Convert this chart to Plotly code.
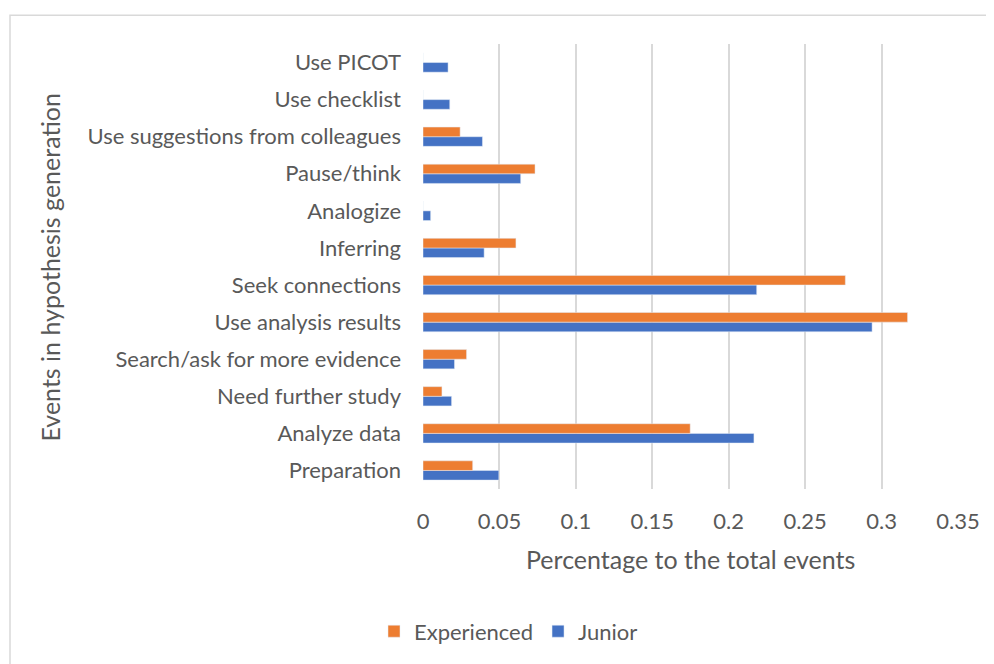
import plotly.graph_objects as go

categories = ["Preparation", "Analyze data", "Need further study", "Search/ask for more evidence",
              "Use analysis results", "Seek connections", "Inferring", "Analogize",
              "Pause/think", "Use suggestions from colleagues", "Use checklist", "Use PICOT"]
experienced = [0.0325, 0.1748, 0.0124, 0.0285, 0.3170, 0.2763, 0.0608, 0.0, 0.0733, 0.0243, 0.0, 0.0]
junior = [0.0496, 0.2165, 0.0187, 0.0206, 0.2938, 0.2183, 0.0400, 0.0050, 0.0639, 0.0389, 0.0175, 0.0164]
x_ticks = [0, 0.05, 0.1, 0.15, 0.2, 0.25, 0.3, 0.35]
x_tick_text = ["0", "0.05", "0.1", "0.15", "0.2", "0.25", "0.3", "0.35"]

FONT = "Lato"
GRAY = "#595959"

fig = go.Figure()
fig.add_trace(go.Bar(y=categories, x=junior, orientation="h", name="Junior",
                     marker=dict(color="#4472C4"), legendrank=2))
fig.add_trace(go.Bar(y=categories, x=experienced, orientation="h", name="Experienced",
                     marker=dict(color="#ED7D31"), legendrank=1))

O = 8  # page body offset
W, H = 994 - O, 664 - O
# plot area in screen (reference) pixels
PX0, PX1, PY0, PY1 = 423, 958, 44, 494
L, R, T, B = PX0 - O, W - (PX1 - O), PY0 - O, H - (PY1 - O)
pw, ph = W - L - R, H - T - B

def px(x):
    return (x - O - L) / pw

def py(y):
    return (H - B - (y - O)) / ph

fig.update_layout(
    width=W, height=H,
    margin=dict(l=L, r=R, t=T, b=B),
    paper_bgcolor="white", plot_bgcolor="white",
    barmode="group", bargap=0.48, bargroupgap=0,
    font=dict(family=FONT, color=GRAY, size=22),
    showlegend=True,
    legend=dict(orientation="h", x=px(374), y=py(638), xanchor="left", yanchor="middle",
                font=dict(size=22, color=GRAY), traceorder="normal", itemwidth=30),
    xaxis=dict(range=[0, 0.35], tickvals=x_ticks, ticktext=x_tick_text,
               showgrid=True, gridcolor="#d9d9d9", gridwidth=1.5, zeroline=False,
               showline=False, ticklabelstandoff=17, tickfont=dict(size=22, color=GRAY)),
    yaxis=dict(type="category", categoryorder="array", categoryarray=categories,
               showgrid=False, zeroline=False, showline=False, ticklabelstandoff=21,
               tickfont=dict(size=22, color=GRAY)),
    annotations=[
        dict(text="Percentage to the total events", x=px(690), y=py(565), xref="paper", yref="paper",
             showarrow=False, font=dict(size=25, color=GRAY), xanchor="center", yanchor="middle"),
        dict(text="Events in hypothesis generation", x=px(50), y=py(270), xref="paper", yref="paper",
             showarrow=False, textangle=-90, font=dict(size=25, color=GRAY),
             xanchor="center", yanchor="middle"),
    ],
    shapes=[dict(type="rect", xref="paper", yref="paper", x0=px(10), x1=px(1010),
                 y0=py(700), y1=py(15), line=dict(color="#d9d9d9", width=1.5), layer="below")],
)

fig.write_html("out.html")
